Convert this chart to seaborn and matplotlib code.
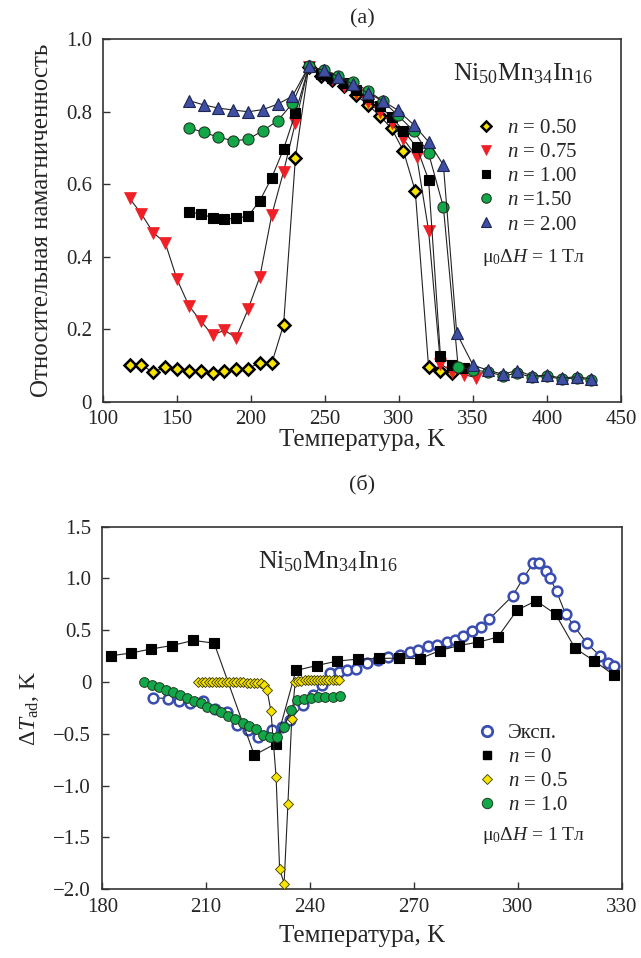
import numpy as np
import pandas as pd
import matplotlib
matplotlib.use("Agg")
import matplotlib.pyplot as plt
import matplotlib.ticker as mticker
from matplotlib.lines import Line2D
import seaborn as sns

# ---------------- data: panel (a) ----------------
Ta_050 = [118, 126, 134, 142, 150, 158, 166, 174, 182, 190, 198, 206, 214, 222, 230, 239,
          247, 255, 263, 271, 279, 287, 295, 303, 311, 320, 328, 336]
Ma_050 = [0.101, 0.101, 0.081, 0.097, 0.090, 0.086, 0.086, 0.080, 0.086, 0.090, 0.091, 0.108,
          0.106, 0.212, 0.672, 0.924, 0.900, 0.888, 0.872, 0.846, 0.819, 0.789, 0.754, 0.692,
          0.581, 0.095, 0.086, 0.080]

Ta_075 = [118, 126, 134, 142, 150, 158, 166, 174, 182, 190, 198, 206, 214, 222, 230, 239,
          247, 255, 263, 271, 279, 287, 295, 303, 312, 320, 328, 336, 344, 352]
Ma_075 = [0.561, 0.518, 0.466, 0.439, 0.338, 0.265, 0.223, 0.184, 0.197, 0.177, 0.255, 0.345,
          0.515, 0.635, 0.770, 0.924, 0.905, 0.890, 0.872, 0.852, 0.828, 0.800, 0.768, 0.725,
          0.676, 0.472, 0.105, 0.082, 0.075, 0.066]

Ta_100 = [158, 166, 174, 182, 190, 198, 206, 214, 222, 230, 239, 247, 255, 263, 271, 279,
          287, 295, 303, 312, 320, 328, 336, 344]
Ma_100 = [0.524, 0.518, 0.508, 0.504, 0.506, 0.512, 0.555, 0.618, 0.697, 0.796, 0.924, 0.905,
          0.894, 0.880, 0.860, 0.840, 0.815, 0.785, 0.748, 0.702, 0.612, 0.126, 0.101, 0.094]

Ta_150 = [158, 168, 178, 188, 198, 208, 218, 228, 239, 249, 259, 269, 279, 289, 299, 310,
          320, 330, 340, 350, 360, 370, 380, 390, 400, 410, 420, 430]
Ma_150 = [0.756, 0.743, 0.730, 0.720, 0.724, 0.748, 0.775, 0.823, 0.925, 0.916, 0.900, 0.881,
          0.858, 0.830, 0.791, 0.747, 0.685, 0.537, 0.095, 0.088, 0.082, 0.072, 0.078, 0.068,
          0.070, 0.062, 0.066, 0.060]

Ta_200 = [158, 168, 178, 188, 198, 208, 218, 228, 239, 249, 259, 269, 279, 289, 299, 310,
          320, 330, 339, 350, 360, 370, 380, 390, 400, 410, 420, 430]
Ma_200 = [0.831, 0.819, 0.810, 0.805, 0.800, 0.806, 0.821, 0.843, 0.925, 0.915, 0.897, 0.876,
          0.851, 0.830, 0.805, 0.764, 0.717, 0.653, 0.189, 0.101, 0.087, 0.076, 0.086, 0.071,
          0.073, 0.065, 0.069, 0.063]

labels_a = [r"$n$ = 0.50", r"$n$ = 0.75", r"$n$ = 1.00", r"$n$ =1.50", r"$n$ = 2.00"]
xticks_a = [100, 150, 200, 250, 300, 350, 400, 450]
yticks_a = [0, 0.2, 0.4, 0.6, 0.8, 1.0]

# ---------------- data: panel (б) ----------------
Tb_exp = [194.7, 199.0, 202.2, 205.4, 209.1, 212.5, 215.9, 218.8, 222.0, 225.0, 228.9, 231.8,
          234.2, 238.0, 240.9, 243.5, 245.8, 248.4, 250.6, 253.2, 256.5, 259.5, 262.6, 266.0,
          268.8, 271.3, 274.1, 276.8, 279.5, 281.9, 284.2, 286.8, 289.4, 291.8, 298.5, 301.6,
          304.5, 306.2, 308.0, 309.3, 311.2, 313.8, 316.2, 319.9, 323.7, 326.1, 327.8]
Db_exp = [-0.150, -0.160, -0.187, -0.203, -0.185, -0.260, -0.284, -0.410, -0.460, -0.530,
          -0.460, -0.434, -0.364, -0.219, -0.123, -0.030, 0.087, 0.102, 0.115, 0.130, 0.180,
          0.210, 0.245, 0.265, 0.288, 0.310, 0.344, 0.360, 0.385, 0.410, 0.447, 0.490, 0.535,
          0.610, 0.833, 1.004, 1.149, 1.149, 1.068, 1.004, 0.875, 0.656, 0.543, 0.376, 0.254,
          0.183, 0.151]

Tb_n0 = [182.4, 188.2, 194.0, 200.1, 206.3, 212.3, 223.9, 230.1, 235.9, 241.9, 247.9, 253.8,
         259.8, 265.8, 271.7, 277.5, 283.0, 288.6, 294.2, 299.8, 305.3, 310.9, 316.5, 322.1,
         327.7]
Db_n0 = [0.254, 0.280, 0.319, 0.353, 0.402, 0.376, -0.705, -0.593, 0.112, 0.160, 0.203, 0.222,
         0.228, 0.232, 0.225, 0.305, 0.353, 0.386, 0.434, 0.695, 0.785, 0.656, 0.328, 0.203,
         0.070]

Tb_n05 = [207.7, 208.7, 209.7, 210.7, 211.7, 212.7, 213.7, 214.7, 215.7, 216.7, 217.7, 218.7,
          219.7, 220.7, 221.7, 222.7, 223.7, 224.7, 225.7, 226.6, 227.6, 228.7, 230.2, 231.2,
          232.5, 233.6, 234.7, 235.7, 236.6, 237.5, 238.4, 239.3, 240.2, 241.1, 242.0, 242.9,
          243.8, 244.7, 245.6, 246.5, 247.4, 248.4]
Db_n05 = [0.0, 0.0, 0.0, 0.0, 0.0, 0.0, 0.0, 0.0, 0.0, 0.0, 0.0, 0.0, 0.0, 0.0, -0.005,
          -0.005, -0.005, -0.01, -0.01, -0.03, -0.08, -0.28, -0.92, -1.80, -1.945, -1.18,
          -0.36, 0.0, 0.01, 0.015, 0.02, 0.02, 0.02, 0.02, 0.02, 0.022, 0.022, 0.022, 0.022,
          0.022, 0.022, 0.022]

Tb_n1 = [192.0, 194.3, 196.4, 198.4, 200.3, 202.4, 204.4, 206.5, 208.4, 210.3, 212.3, 214.3,
         216.3, 218.3, 220.5, 222.4, 224.4, 226.3, 228.4, 230.4, 232.5, 234.4, 236.3, 238.2,
         240.4, 242.4, 244.4, 246.5, 248.6]
Db_n1 = [0.0, -0.026, -0.048, -0.074, -0.100, -0.123, -0.154, -0.178, -0.203, -0.236, -0.261,
         -0.293, -0.325, -0.357, -0.390, -0.422, -0.454, -0.509, -0.531, -0.531, -0.436,
         -0.274, -0.175, -0.163, -0.152, -0.147, -0.145, -0.139, -0.132]

labels_b = ["Эксп.", r"$n$ = 0", r"$n$ = 0.5", r"$n$ = 1.0"]
xticks_b = [180, 210, 240, 270, 300, 330]
yticks_b = [-2.0, -1.5, -1.0, -0.5, 0, 0.5, 1.0, 1.5]

# ---------------- style ----------------
sns.set_style("ticks")
plt.rcParams["font.family"] = ["Liberation Serif", "DejaVu Serif"]
plt.rcParams["mathtext.fontset"] = "custom"
plt.rcParams["mathtext.rm"] = "Liberation Serif"
plt.rcParams["mathtext.it"] = "Liberation Serif:italic"
plt.rcParams["axes.unicode_minus"] = True

YELLOW = "#f7e400"
RED = "#ee2026"
GREEN = "#12a84a"
BLUE = "#3f4fa3"
OBLUE = "#3a4db0"
FS = 15
LFS = 18

fig = plt.figure(figsize=(6.41, 9.58), dpi=100)
ax1 = fig.add_axes([103 / 641, 1 - 401.7 / 958, 518 / 641, 362.4 / 958])
ax2 = fig.add_axes([102.3 / 641, 1 - 889.3 / 958, 519.4 / 641, 362.6 / 958])


def series(ax, T, V, marker, fc, ec, ms, mew, lw=0.8, z=2):
    df = pd.DataFrame({"T": T, "V": V})
    sns.lineplot(data=df, x="T", y="V", ax=ax, sort=False, estimator=None,
                 color="#222222", linewidth=lw, marker=marker, markersize=ms,
                 markerfacecolor=fc, markeredgecolor=ec, markeredgewidth=mew,
                 zorder=z, legend=False)


# panel (a)
specs_a = [
    (Ta_050, Ma_050, "D", YELLOW, "black", 6.5, 1.8),
    (Ta_075, Ma_075, "v", RED, RED, 8.5, 0.5),
    (Ta_100, Ma_100, "s", "black", "black", 6.5, 0.8),
    (Ta_150, Ma_150, "o", GREEN, "#1f3a22", 8.0, 0.8),
    (Ta_200, Ma_200, "^", BLUE, "#1d2550", 8.5, 0.8),
]
for i, (T, V, mk, fc, ec, ms, mew) in enumerate(specs_a):
    series(ax1, T, V, mk, fc, ec, ms, mew, z=2 + i)

ax1.set_xlim(100, 450)
ax1.set_ylim(0, 1.0)
ax1.set_xticks(xticks_a)
ax1.set_yticks(yticks_a)
ax1.yaxis.set_major_formatter(mticker.FuncFormatter(lambda v, p: "0" if abs(v) < 1e-9 else f"{v:.1f}"))
ax1.set_xlabel("Температура, K", fontsize=LFS, labelpad=0)
ax1.set_ylabel("Относительная намагниченность", fontsize=LFS, labelpad=9)

handles_a = [Line2D([], [], linestyle="none", marker=mk, markerfacecolor=fc, markeredgecolor=ec,
                    markersize=ms * 0.85, markeredgewidth=mew)
             for (_, _, mk, fc, ec, ms, mew) in specs_a]
leg1 = ax1.legend(handles_a, labels_a, loc="upper left", bbox_to_anchor=(0.72, 0.782),
                  frameon=False, fontsize=FS, handlelength=1.0, handletextpad=0.5,
                  labelspacing=0.22, borderpad=0.0, borderaxespad=0.0)
ax1.text(0.676, 0.905, r"Ni$_{50}$Mn$_{34}$In$_{16}$", transform=ax1.transAxes,
         fontsize=18.5, ha="left", va="center")
ax1.text(0.732, 0.397, r"μ$_0$Δ$H$ = 1 Тл", transform=ax1.transAxes,
         fontsize=14, ha="left", va="center")

# panel (б)
series(ax2, Tb_exp, Db_exp, "o", "white", OBLUE, 7.0, 1.8, z=2)
series(ax2, Tb_n0, Db_n0, "s", "black", "black", 6.5, 0.8, z=3)
series(ax2, Tb_n05, Db_n05, "D", YELLOW, "#3a3a00", 5.0, 0.6, z=4)
series(ax2, Tb_n1, Db_n1, "o", GREEN, "#1f3a22", 7.0, 0.7, z=5)

ax2.set_xlim(180, 330)
ax2.set_ylim(-2.0, 1.5)
ax2.set_xticks(xticks_b)
ax2.set_yticks(yticks_b)
ax2.yaxis.set_major_formatter(mticker.FuncFormatter(lambda v, p: "0" if abs(v) < 1e-9 else f"{v:.1f}".replace("-", "\u2212")))
ax2.set_xlabel("Температура, K", fontsize=LFS, labelpad=6)
ax2.set_ylabel(r"Δ$T_{\rm ad}$, K", fontsize=17, labelpad=9)

handles_b = [
    Line2D([], [], linestyle="none", marker="o", markerfacecolor="white", markeredgecolor=OBLUE,
           markersize=7.5, markeredgewidth=2.0),
    Line2D([], [], linestyle="none", marker="s", markerfacecolor="black", markeredgecolor="black",
           markersize=6.0),
    Line2D([], [], linestyle="none", marker="D", markerfacecolor=YELLOW, markeredgecolor="#3a3a00",
           markersize=5.5, markeredgewidth=0.6),
    Line2D([], [], linestyle="none", marker="o", markerfacecolor=GREEN, markeredgecolor="#1f3a22",
           markersize=7.5, markeredgewidth=0.7),
]
leg2 = ax2.legend(handles_b, labels_b, loc="upper left", bbox_to_anchor=(0.72, 0.458),
                  frameon=False, fontsize=FS, handlelength=1.0, handletextpad=0.5,
                  labelspacing=0.22, borderpad=0.0, borderaxespad=0.0)
ax2.text(0.30, 0.903, r"Ni$_{50}$Mn$_{34}$In$_{16}$", transform=ax2.transAxes,
         fontsize=18.5, ha="left", va="center")
ax2.text(0.731, 0.147, r"μ$_0$Δ$H$ = 1 Тл", transform=ax2.transAxes,
         fontsize=14, ha="left", va="center")

for ax in (ax1, ax2):
    for s in ax.spines.values():
        s.set_linewidth(1.2)
        s.set_color("#333333")
    ax.tick_params(direction="in", length=5, width=1.0, labelsize=FS, color="#333333",
                   top=False, right=False)
    ax.tick_params(axis="y", pad=8)
    ax.tick_params(axis="x", pad=6)

fig.text(0.565, 1 - 19 / 958, "(a)", fontsize=16, ha="center", va="center")
fig.text(0.565, 1 - 485 / 958, "(б)", fontsize=16, ha="center", va="center")

fig.savefig("out.png", dpi=100)
